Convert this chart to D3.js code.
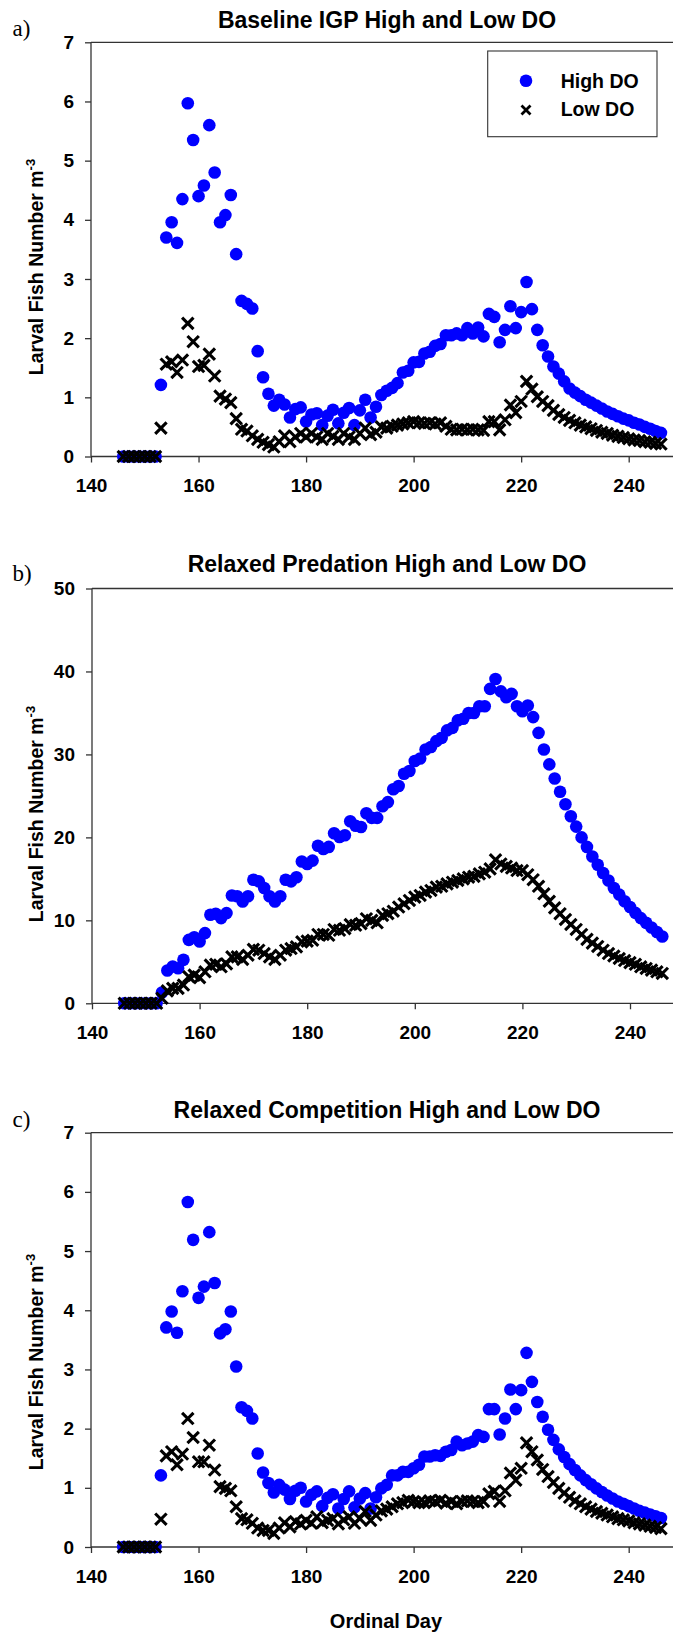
<!DOCTYPE html>
<html>
<head>
<meta charset="utf-8">
<script src="https://cdn.jsdelivr.net/npm/d3@7"></script>
<style>
  html, body { margin: 0; padding: 0; background: #fff; }
  svg { display: block; }
  text { font-family: "Liberation Sans", Arial, sans-serif; font-weight: bold; fill: #000; }
  .tag { font-family: "Liberation Serif", "Times New Roman", serif; font-weight: normal; }
</style>
</head>
<body>
<script>
// Ordinal days sampled in every scenario (146 .. 246)
const days = d3.range(146, 247);

const xTickValues = [140, 160, 180, 200, 220, 240];
const yTicksSmall = [0, 1, 2, 3, 4, 5, 6, 7];
const yTicksLarge = [0, 10, 20, 30, 40, 50];

const seriesNames = ["High DO", "Low DO"];

// a) Baseline IGP
const baselineHigh = [
  0, 0, 0, 0, 0, 0, 0,
  1.21, 3.70, 3.96, 3.61, 4.35, 5.97, 5.35, 4.40, 4.58, 5.60,
  4.80, 3.96, 4.08, 4.42, 3.42, 2.63, 2.58, 2.50, 1.78, 1.34,
  1.06, 0.86, 0.96, 0.88, 0.66, 0.80, 0.83, 0.59, 0.71, 0.73,
  0.53, 0.69, 0.79, 0.56, 0.74, 0.82, 0.53, 0.78, 0.96, 0.66,
  0.84, 1.04, 1.11, 1.16, 1.24, 1.42, 1.45, 1.59, 1.60, 1.74,
  1.77, 1.87, 1.90, 2.05, 2.05, 2.08, 2.05, 2.17, 2.08, 2.18,
  2.03, 2.41, 2.36, 1.93, 2.14, 2.54, 2.17, 2.44, 2.95, 2.49,
  2.14, 1.88, 1.69, 1.52, 1.40, 1.27, 1.15, 1.08, 1.02, 0.96,
  0.91, 0.86, 0.81, 0.76, 0.72, 0.68, 0.64, 0.61, 0.57, 0.54,
  0.50, 0.47, 0.43, 0.40
];
const baselineLow = [
  0, 0, 0, 0, 0, 0, 0,
  0.48, 1.56, 1.60, 1.42, 1.63, 2.25, 1.94, 1.52, 1.54, 1.73,
  1.36, 1.02, 0.97, 0.91, 0.64, 0.46, 0.43, 0.35, 0.29, 0.24,
  0.20, 0.16, 0.25, 0.35, 0.25, 0.33, 0.39, 0.33, 0.39, 0.33,
  0.29, 0.39, 0.34, 0.29, 0.39, 0.33, 0.29, 0.39, 0.48, 0.37,
  0.41, 0.50, 0.48, 0.51, 0.53, 0.55, 0.57, 0.59, 0.57, 0.56,
  0.57, 0.55, 0.57, 0.51, 0.46, 0.45, 0.46, 0.45, 0.46, 0.45,
  0.44, 0.59, 0.59, 0.45, 0.62, 0.87, 0.74, 0.93, 1.27, 1.14,
  1.01, 0.93, 0.86, 0.78, 0.71, 0.66, 0.61, 0.57, 0.53, 0.50,
  0.47, 0.44, 0.41, 0.39, 0.36, 0.34, 0.32, 0.30, 0.28, 0.27,
  0.25, 0.24, 0.22, 0.21
];

// b) Relaxed predation
const predationHigh = [
  0, 0, 0, 0, 0, 0, 0,
  1.3, 3.95, 4.43, 4.23, 5.24, 7.65, 7.97, 7.45, 8.46, 10.67,
  10.8, 10.27, 10.87, 13.0, 12.9, 12.28, 12.9, 14.9, 14.7, 13.9,
  12.9, 12.28, 12.9, 14.9, 14.7, 15.2, 17.1, 16.8, 17.2, 19.0,
  18.6, 18.85, 20.5, 20.05, 20.25, 21.95, 21.4, 21.25, 22.9, 22.35,
  22.35, 23.76, 24.25, 25.8, 26.2, 27.67, 28.0, 29.2, 29.5, 30.6,
  30.9, 31.6, 32.0, 32.9, 33.2, 34.1, 34.3, 35.0, 35.0, 35.8,
  35.8, 37.9, 39.1, 37.6, 36.9, 37.3, 35.8, 35.2, 35.9, 34.5,
  32.6, 30.6, 28.8, 27.1, 25.5, 24.0, 22.55, 21.3, 20.0, 18.85,
  17.7, 16.7, 15.7, 14.8, 13.9, 13.1, 12.3, 11.6, 10.9, 10.27,
  9.7, 9.14, 8.6, 8.05
];
const predationLow = [
  0, 0, 0, 0, 0, 0, 0,
  0.6, 1.5, 1.8, 1.8, 2.2, 3.2, 3.4, 3.1, 3.8, 4.6,
  4.7, 4.4, 4.75, 5.6, 5.6, 5.3, 5.8, 6.5, 6.4, 6.0,
  5.6, 5.3, 5.8, 6.4, 6.6, 6.8, 7.4, 7.5, 7.6, 8.3,
  8.3, 8.2, 8.9, 8.8, 9.0, 9.5, 9.4, 9.6, 10.2, 10.0,
  9.7, 10.6, 10.8, 11.1, 11.6, 12.0, 12.4, 12.8, 13.0, 13.4,
  13.6, 14.0, 14.1, 14.4, 14.6, 14.8, 15.0, 15.2, 15.3, 15.6,
  15.8, 16.2, 17.3, 16.8, 16.5, 16.3, 16.0, 16.0, 15.5, 14.9,
  14.1, 13.2, 12.3, 11.5, 10.8, 10.1, 9.5, 8.9, 8.3, 7.7,
  7.25, 6.85, 6.4, 6.0, 5.7, 5.4, 5.15, 4.9, 4.7, 4.4,
  4.2, 4.0, 3.8, 3.6
];

// c) Relaxed competition
const competitionHigh = [
  0, 0, 0, 0, 0, 0, 0,
  1.21, 3.71, 3.98, 3.62, 4.32, 5.83, 5.19, 4.21, 4.40, 5.32,
  4.46, 3.61, 3.68, 3.98, 3.05, 2.36, 2.30, 2.17, 1.58, 1.26,
  1.08, 0.92, 1.05, 0.97, 0.81, 0.95, 1.00, 0.77, 0.88, 0.94,
  0.69, 0.83, 0.89, 0.65, 0.81, 0.94, 0.67, 0.82, 0.91, 0.65,
  0.84, 0.99, 1.05, 1.21, 1.21, 1.27, 1.27, 1.33, 1.39, 1.53,
  1.53, 1.55, 1.54, 1.61, 1.64, 1.78, 1.72, 1.75, 1.78, 1.89,
  1.86, 2.33, 2.33, 1.90, 2.17, 2.66, 2.33, 2.65, 3.28, 2.79,
  2.45, 2.20, 1.98, 1.81, 1.65, 1.52, 1.40, 1.30, 1.21, 1.13,
  1.06, 0.99, 0.93, 0.87, 0.82, 0.77, 0.73, 0.69, 0.65, 0.61,
  0.58, 0.55, 0.52, 0.49
];
const competitionLow = [
  0, 0, 0, 0, 0, 0, 0,
  0.47, 1.54, 1.61, 1.39, 1.57, 2.17, 1.85, 1.44, 1.44, 1.72,
  1.30, 1.02, 0.99, 0.95, 0.68, 0.48, 0.46, 0.40, 0.32, 0.28,
  0.28, 0.23, 0.32, 0.41, 0.34, 0.43, 0.39, 0.45, 0.40, 0.51,
  0.41, 0.45, 0.48, 0.39, 0.46, 0.51, 0.40, 0.48, 0.60, 0.45,
  0.54, 0.61, 0.64, 0.68, 0.73, 0.75, 0.79, 0.77, 0.75, 0.75,
  0.78, 0.77, 0.79, 0.74, 0.77, 0.73, 0.77, 0.78, 0.77, 0.75,
  0.77, 0.90, 0.94, 0.77, 0.95, 1.25, 1.13, 1.33, 1.76, 1.61,
  1.47, 1.31, 1.19, 1.09, 0.99, 0.91, 0.84, 0.78, 0.73, 0.68,
  0.64, 0.60, 0.57, 0.54, 0.51, 0.48, 0.46, 0.44, 0.41, 0.39,
  0.37, 0.35, 0.33, 0.31
];

// Page geometry
const W = 673, H = 1635;
const AXIS_COLOR = "#333";
const BLUE = "#0000ff";

const panels = [
  { tag: "a)", title: "Baseline IGP High and Low DO", high: baselineHigh, low: baselineLow,
    yTicks: yTicksSmall, left: 91, x240: 628.7, top: 42.3, bottom: 456.5,
    titleY: 27.7, tagY: 36.3, labelY: 267, legend: true },
  { tag: "b)", title: "Relaxed Predation High and Low DO", high: predationHigh, low: predationLow,
    yTicks: yTicksLarge, left: 92, x240: 630, top: 588.5, bottom: 1003.3,
    titleY: 572, tagY: 580.6, labelY: 814, legend: false },
  { tag: "c)", title: "Relaxed Competition High and Low DO", high: competitionHigh, low: competitionLow,
    yTicks: yTicksSmall, left: 91, x240: 628.7, top: 1132.7, bottom: 1547,
    titleY: 1118, tagY: 1127, labelY: 1362, legend: false }
];

const svg = d3.select("body").append("svg")
  .attr("width", W).attr("height", H)
  .attr("viewBox", `0 0 ${W} ${H}`);

svg.append("rect").attr("width", W).attr("height", H).attr("fill", "#fff");

// X marker drawn around a scaled point
function xMarkPath(cx, cy, s) {
  return `M${cx - s},${cy - s}L${cx + s},${cy + s}M${cx - s},${cy + s}L${cx + s},${cy - s}`;
}

panels.forEach(p => {
  const g = svg.append("g");
  const yMax = d3.max(p.yTicks);

  const x = d3.scaleLinear().domain([140, 240]).range([p.left, p.x240]);
  const y = d3.scaleLinear().domain([0, yMax]).range([p.bottom, p.top]);

  // Frame: left axis, top rule, bottom axis
  g.append("line").attr("x1", p.left).attr("x2", p.left).attr("y1", p.top).attr("y2", p.bottom)
    .attr("stroke", AXIS_COLOR).attr("stroke-width", 1.3);
  g.append("line").attr("x1", p.left).attr("x2", W).attr("y1", p.top).attr("y2", p.top)
    .attr("stroke", AXIS_COLOR).attr("stroke-width", 1.3);
  g.append("line").attr("x1", p.left).attr("x2", W).attr("y1", p.bottom).attr("y2", p.bottom)
    .attr("stroke", AXIS_COLOR).attr("stroke-width", 1.3);

  // Y axis
  const yAxis = g.append("g").attr("transform", `translate(${p.left},0)`)
    .call(d3.axisLeft(y).tickValues(p.yTicks).tickSize(6).tickPadding(11).tickFormat(d3.format("d")));
  yAxis.select(".domain").remove();
  yAxis.selectAll(".tick line").attr("stroke", AXIS_COLOR).attr("stroke-width", 1.3);
  yAxis.selectAll(".tick text").attr("font-size", 19).attr("font-family", null).attr("fill", "#000");

  // X axis
  const xAxis = g.append("g").attr("transform", `translate(0,${p.bottom})`)
    .call(d3.axisBottom(x).tickValues(xTickValues).tickSize(6).tickPadding(16.5).tickFormat(d3.format("d")));
  xAxis.select(".domain").remove();
  xAxis.selectAll(".tick line").attr("stroke", AXIS_COLOR).attr("stroke-width", 1.3);
  xAxis.selectAll(".tick text").attr("font-size", 19).attr("font-family", null).attr("fill", "#000");

  // Title and panel tag
  g.append("text").attr("x", 387).attr("y", p.titleY).attr("text-anchor", "middle")
    .attr("font-size", 23).text(p.title);
  g.append("text").attr("class", "tag").attr("x", 12.5).attr("y", p.tagY)
    .attr("font-size", 23).text(p.tag);

  // Y axis title with superscript
  const yl = g.append("text")
    .attr("transform", `translate(43,${p.labelY}) rotate(-90)`)
    .attr("text-anchor", "middle").attr("font-size", 19.5);
  yl.append("tspan").text("Larval Fish Number m");
  yl.append("tspan").attr("dy", -8).attr("font-size", 13).text("-3");

  const rows = days.map((d, i) => ({ day: d, high: p.high[i], low: p.low[i] }));

  // High DO: blue dots
  g.append("g").selectAll("circle").data(rows).join("circle")
    .attr("cx", d => x(d.day)).attr("cy", d => y(d.high))
    .attr("r", 6.3).attr("fill", BLUE);

  // Low DO: black crosses on top
  g.append("g").selectAll("path").data(rows).join("path")
    .attr("d", d => xMarkPath(x(d.day), y(d.low), 5.7))
    .attr("fill", "none").attr("stroke", "#000").attr("stroke-width", 3.1);

  if (p.legend) {
    const lg = g.append("g");
    lg.append("rect").attr("x", 487.7).attr("y", 51).attr("width", 169.3).attr("height", 85.7)
      .attr("fill", "#fff").attr("stroke", AXIS_COLOR).attr("stroke-width", 1.1);
    lg.append("circle").attr("cx", 526).attr("cy", 80.7).attr("r", 6.3).attr("fill", BLUE);
    lg.append("path").attr("d", xMarkPath(526, 110, 4.5))
      .attr("fill", "none").attr("stroke", "#000").attr("stroke-width", 2.8);
    lg.append("text").attr("x", 560.7).attr("y", 87.5).attr("font-size", 19.5).text(seriesNames[0]);
    lg.append("text").attr("x", 560.7).attr("y", 116).attr("font-size", 19.5).text(seriesNames[1]);
  }
});

// Shared x axis title
svg.append("text").attr("x", 386).attr("y", 1628).attr("text-anchor", "middle")
  .attr("font-size", 20).text("Ordinal Day");
</script>
</body>
</html>
